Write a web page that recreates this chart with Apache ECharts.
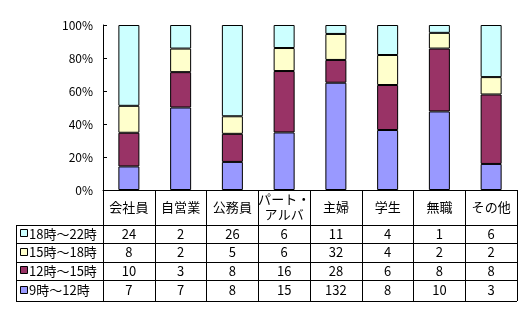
<!DOCTYPE html>
<html><head><meta charset="utf-8">
<script src="https://cdn.jsdelivr.net/npm/echarts@6/dist/echarts.min.js"></script>
<style>html,body{margin:0;padding:0;background:#fff}#c{width:532px;height:317px}</style>
</head><body><div id="c"></div>
<script>
var categories = ['会社員', '自営業', '公務員', 'パート・\nアルバ', '主婦', '学生', '無職', 'その他'];
var s18_22 = [24, 2, 26, 6, 11, 4, 1, 6];
var s15_18 = [8, 2, 5, 6, 32, 4, 2, 2];
var s12_15 = [10, 3, 8, 16, 28, 6, 8, 8];
var s9_12 = [7, 7, 8, 15, 132, 8, 10, 3];
var seriesNames = ['9時～12時', '12時～15時', '15時～18時', '18時～22時'];
var seriesData = [s9_12, s12_15, s15_18, s18_22];
var colors = ['#9999FF', '#993366', '#FFFFCC', '#CCFFFF'];
var yTicks = [0, 20, 40, 60, 80, 100];

var FONT = '"Noto Sans CJK JP", sans-serif';
var totals = categories.map(function (c, i) {
  return seriesData.reduce(function (a, s) { return a + s[i]; }, 0);
});
var chart = echarts.init(document.getElementById('c'), null, { renderer: 'canvas' });

var series = seriesData.map(function (arr, k) {
  return {
    name: seriesNames[k], type: 'bar', stack: 'a', barWidth: 21,
    data: arr.map(function (v, i) { return v / totals[i] * 100; }),
    itemStyle: { color: colors[k], borderColor: '#000', borderWidth: 1 },
    emphasis: { disabled: true }, animation: false
  };
});

chart.setOption({
  animation: false,
  grid: { left: 103, right: 15, top: 25, bottom: 127, containLabel: false },
  xAxis: {
    type: 'category', data: categories, boundaryGap: true,
    axisLine: { lineStyle: { color: '#000', width: 1 } },
    axisTick: { show: true, length: 111, lineStyle: { color: '#000' }, alignWithLabel: false },
    axisLabel: { interval: 0, color: '#000', fontFamily: FONT, fontSize: 13, margin: 17,
      verticalAlign: 'middle', lineHeight: 15 }
  },
  yAxis: {
    type: 'value', min: yTicks[0], max: yTicks[yTicks.length - 1], interval: 20,
    axisLine: { show: true, lineStyle: { color: '#000' } },
    axisTick: { show: true, inside: true, length: 4, lineStyle: { color: '#000' } },
    splitLine: { show: false },
    axisLabel: { formatter: '{value}%', color: '#000', fontFamily: FONT, fontSize: 12, margin: 10 }
  },
  series: series
});

// data table
var rowLines = [225, 243, 262, 280, 301];
var rowCenters = [234, 252.5, 271, 290.5];
var tableRows = [
  { name: '18時～22時', data: s18_22, color: colors[3] },
  { name: '15時～18時', data: s15_18, color: colors[2] },
  { name: '12時～15時', data: s12_15, color: colors[1] },
  { name: '9時～12時', data: s9_12, color: colors[0] }
];
var tableLeft = 16, tableRight = 517;
var g = [];
rowLines.forEach(function (y) {
  g.push({ type: 'line', shape: { x1: tableLeft, y1: y + 0.5, x2: tableRight, y2: y + 0.5 },
    style: { stroke: '#000', lineWidth: 1 }, silent: true });
});
g.push({ type: 'line', shape: { x1: tableLeft + 0.5, y1: rowLines[0], x2: tableLeft + 0.5, y2: rowLines[4] + 1 },
  style: { stroke: '#000', lineWidth: 1 }, silent: true });
tableRows.forEach(function (r, ri) {
  var yc = rowCenters[ri];
  g.push({ type: 'rect', shape: { x: 20.5, y: Math.round(yc) - 4.5, width: 7, height: 7 },
    style: { fill: r.color, stroke: '#000', lineWidth: 1 }, silent: true });
  g.push({ type: 'text', x: 29, y: yc, style: { text: r.name, fill: '#000', font: '13px ' + FONT,
    textAlign: 'left', textVerticalAlign: 'middle' }, silent: true });
  r.data.forEach(function (v, i) {
    var x = chart.convertToPixel({ xAxisIndex: 0 }, i);
    g.push({ type: 'text', x: x, y: yc, style: { text: String(v), fill: '#000', font: '13px ' + FONT,
      textAlign: 'center', textVerticalAlign: 'middle' }, silent: true });
  });
});
chart.setOption({ graphic: { elements: g } });
</script>
</body></html>
